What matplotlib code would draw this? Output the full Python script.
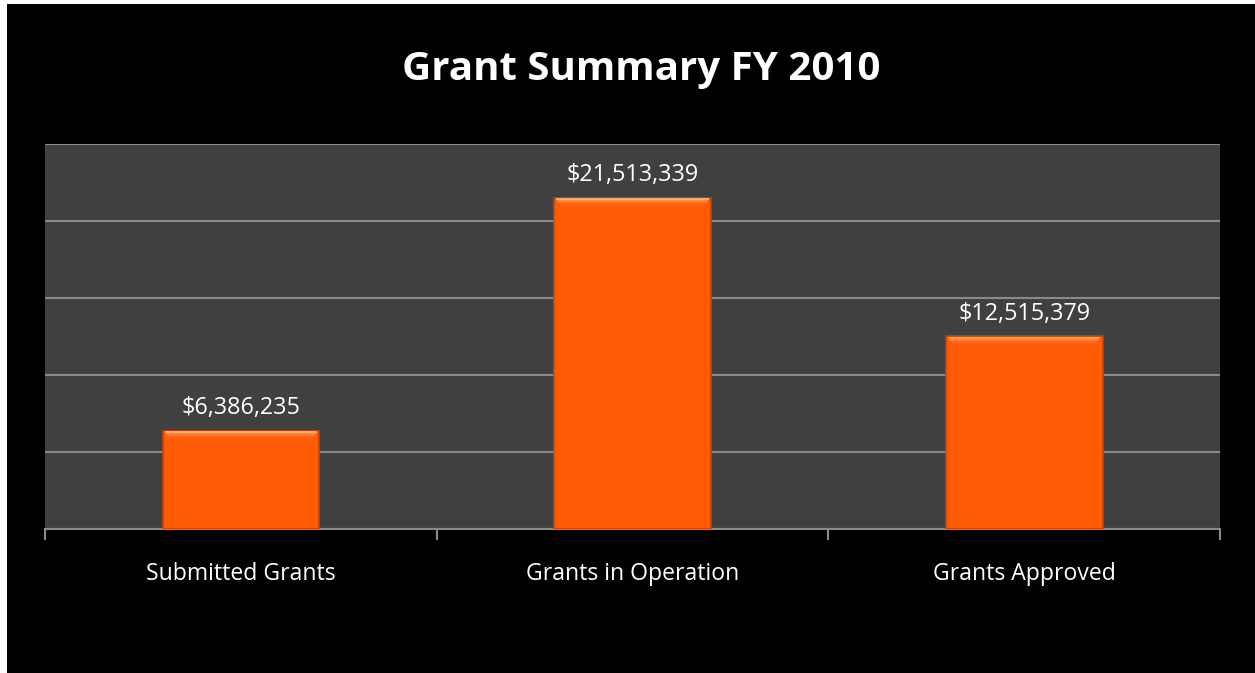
import matplotlib
matplotlib.use("Agg")
import matplotlib.pyplot as plt
from matplotlib.patches import Rectangle
import numpy as np

categories = ["Submitted Grants", "Grants in Operation", "Grants Approved"]
values = [6386235, 21513339, 12515379]
labels = ["$6,386,235", "$21,513,339", "$12,515,379"]
title = "Grant Summary FY 2010"

plt.rcParams['font.family'] = ['Open Sans', 'DejaVu Sans']

fig = plt.figure(figsize=(12.55, 6.73), dpi=100)
fig.patch.set_facecolor("white")
fig.patches.append(Rectangle((7/1255, 0), 1, 1 - 4/673, transform=fig.transFigure,
                             facecolor="black", edgecolor="none", zorder=-10))

ax = fig.add_axes([45/1255, 144/673, 1175/1255, 385/673])
ax.set_facecolor("#404040")

x = np.arange(len(categories))
ymax = 25000000
bars = ax.bar(x, values, width=0.4, color="#FF5A05", edgecolor="#C84400", linewidth=1.2, zorder=3)

# bevel highlight on top edge of each bar (derived from bar geometry)
px = ymax / 385.0
for b in bars:
    for i, (frac, col, a) in enumerate([(0.0, "#FFB070", 0.9), (1.0, "#FF9A50", 0.8),
                                         (2.0, "#FF8538", 0.7), (3.0, "#FF7425", 0.6),
                                         (4.0, "#FF6815", 0.5)]):
        ax.add_patch(Rectangle((b.get_x() + (2 + i) * 0.4 / 156, b.get_height() - (2 + frac * 1.5) * px),
                               b.get_width() - 2 * (2 + i) * 0.4 / 156, 1.5 * px,
                               facecolor=col, edgecolor="none", alpha=a, zorder=4))

for b, lab in zip(bars, labels):
    ax.annotate(lab, (b.get_x() + b.get_width() / 2, b.get_height()),
                xytext=(0, 12), textcoords="offset points", ha="center", va="baseline",
                color="white", fontsize=16.8)

ax.set_xlim(-0.5, len(categories) - 0.5)
ax.set_ylim(0, ymax)
ax.set_yticks(range(0, ymax + 1, 5000000))
ax.yaxis.grid(True, color="#8a8a8a", linewidth=1.5, zorder=1)
ax.tick_params(axis='y', length=0, labelleft=False)

ax.set_xticks(x)
ax.set_xticklabels(categories, color="white", fontsize=16.6)
ax.tick_params(axis='x', length=0, pad=24)
ax.set_xticks([i - 0.5 for i in range(len(categories) + 1)], minor=True)
ax.tick_params(axis='x', which='minor', length=8, width=1.5, color="#8a8a8a")

for s in ["top", "right", "left"]:
    ax.spines[s].set_visible(False)
ax.spines["bottom"].set_color("#8a8a8a")
ax.spines["bottom"].set_linewidth(1.5)

fig.text(0.511, 1 - 80/673, title, ha="center", va="baseline", color="white",
         fontsize=29, fontweight="bold")

fig.savefig("out.png", dpi=100, facecolor=fig.get_facecolor())
